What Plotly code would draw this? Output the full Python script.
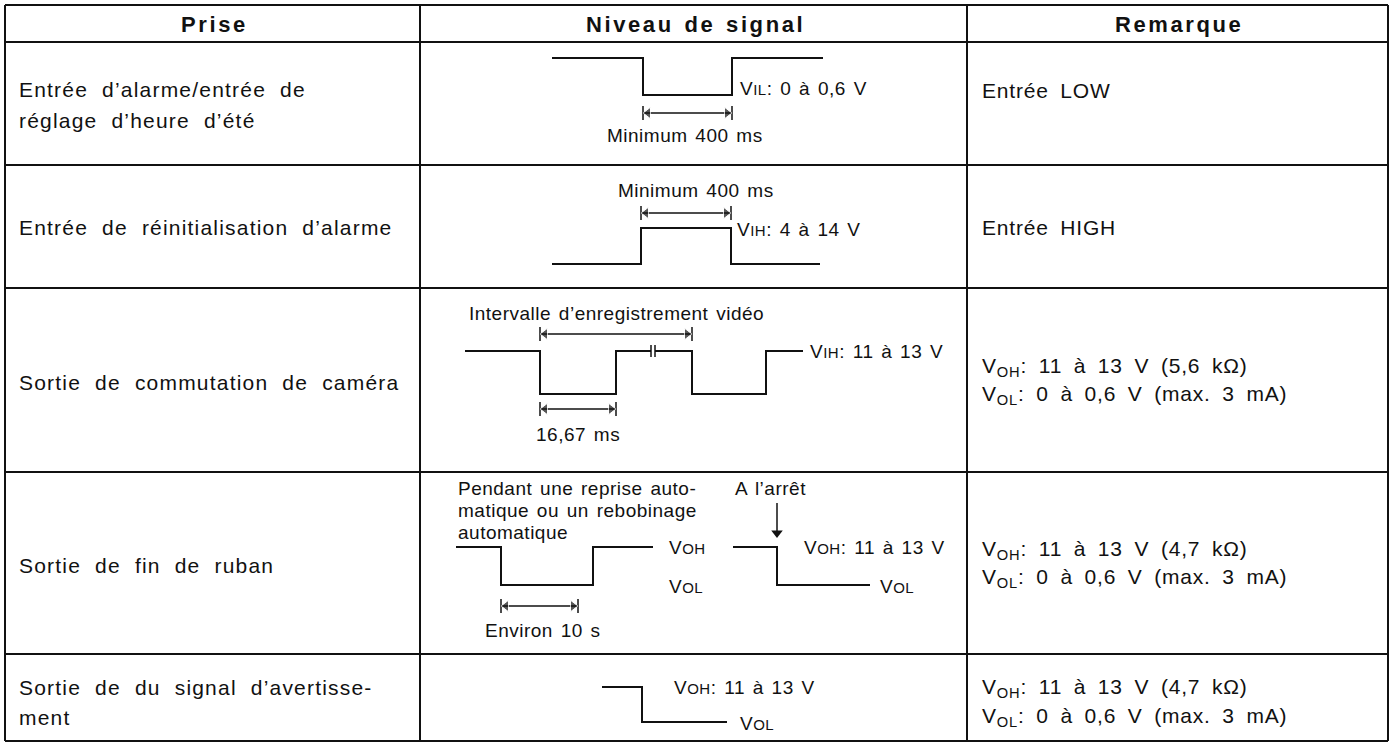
import plotly.graph_objects as go

W, H = 1395, 744
FONT = "Liberation Sans, Arial, Helvetica, sans-serif"

# ---------- table structure ----------
headers = ["Prise", "Niveau de signal", "Remarque"]
col_edges = [5, 420, 967, 1388]
row_edges = [5, 42, 165, 288, 472, 654, 741]

# ---------- left column text (lines, y centre) ----------
prise_lines = [
    ("Entrée d’alarme/entrée de", 89),
    ("réglage d’heure d’été", 120),
    ("Entrée de réinitialisation d’alarme", 227),
    ("Sortie de commutation de caméra", 382),
    ("Sortie de fin de ruban", 565),
    ("Sortie de du signal d’avertisse-", 687),
    ("ment", 717),
]

# ---------- right column text ----------
remarque_lines = [
    ("Entrée LOW", 90),
    ("Entrée HIGH", 227),
    ("V<sub>OH</sub>: 11 à 13 V (5,6 kΩ)", 367),
    ("V<sub>OL</sub>: 0 à 0,6 V (max. 3 mA)", 395),
    ("V<sub>OH</sub>: 11 à 13 V (4,7 kΩ)", 550),
    ("V<sub>OL</sub>: 0 à 0,6 V (max. 3 mA)", 578),
    ("V<sub>OH</sub>: 11 à 13 V (4,7 kΩ)", 688),
    ("V<sub>OL</sub>: 0 à 0,6 V (max. 3 mA)", 717),
]

# ---------- waveforms (pixel coordinates) ----------
waves = [
    # row 1 : low pulse
    ([552, 643, 643, 732, 732, 823], [58, 58, 95, 95, 58, 58]),
    # row 2 : high pulse
    ([552, 641, 641, 731, 731, 820], [264, 264, 228, 228, 264, 264]),
    # row 3 : camera switching (two parts around the break)
    ([465, 540, 540, 616, 616, 651], [351, 351, 394, 394, 351, 351]),
    ([655, 692, 692, 766, 766, 803], [351, 351, 394, 394, 351, 351]),
    # row 4 : end of tape
    ([456, 501, 501, 593, 593, 653], [547, 547, 585, 585, 547, 547]),
    ([733, 777, 777, 870], [547, 547, 585, 585]),
    # row 5 : warning
    ([602, 642, 642, 727], [687, 687, 722, 722]),
]
break_ticks_x = [651, 655]
break_ticks_y = [345, 357]

# dimension arrows: (x_start, x_end, y)
dims = [
    (643, 732, 113),
    (641, 731, 213),
    (540, 692, 334),
    (540, 616, 409),
    (501, 578, 606),
]
# down arrow (x, y_top, y_bottom)
down_arrow = (777, 503, 537)

# wave labels: (text, x, y, anchor)
S = "<span style='font-size:15px'>{}</span>"
wave_labels = [
    ("V" + S.format("IL") + ": 0 à 0,6 V", 738, 88, "left"),
    ("Minimum 400 ms", 685, 135, "center"),
    ("Minimum 400 ms", 696, 190, "center"),
    ("V" + S.format("IH") + ": 4 à 14 V", 735, 229, "left"),
    ("Intervalle d’enregistrement vidéo", 616, 313, "center"),
    ("V" + S.format("IH") + ": 11 à 13 V", 808, 351, "left"),
    ("16,67 ms", 578, 434, "center"),
    ("Pendant une reprise auto-", 456, 488, "left"),
    ("matique ou un rebobinage", 456, 510, "left"),
    ("automatique", 456, 532, "left"),
    ("A l’arrêt", 733, 488, "left"),
    ("V" + S.format("OH"), 667, 547, "left"),
    ("V" + S.format("OL"), 667, 586, "left"),
    ("V" + S.format("OH") + ": 11 à 13 V", 802, 547, "left"),
    ("V" + S.format("OL"), 878, 586, "left"),
    ("Environ 10 s", 483, 630, "left"),
    ("V" + S.format("OH") + ": 11 à 13 V", 672, 687, "left"),
    ("V" + S.format("OL"), 738, 723, "left"),
]

fig = go.Figure()
BLACK = "#111111"

def add_line(xs, ys, w=2):
    fig.add_trace(go.Scatter(x=xs, y=ys, mode="lines",
                             line=dict(color=BLACK, width=w),
                             hoverinfo="skip", showlegend=False))

# table lines
for x in col_edges:
    add_line([x, x], [row_edges[0], row_edges[-1]], 2)
for y in row_edges:
    add_line([col_edges[0], col_edges[-1]], [y, y], 2)

# waveforms
for xs, ys in waves:
    add_line(xs, ys, 2)
for bx in break_ticks_x:
    add_line([bx, bx], break_ticks_y, 1.5)

# dimension arrows
for x0, x1, y in dims:
    add_line([x0, x1], [y, y], 1.5)
    add_line([x0, x0], [y - 7, y + 7], 1.5)
    add_line([x1, x1], [y - 7, y + 7], 1.5)
    fig.add_trace(go.Scatter(x=[x0 + 5, x1 - 5], y=[y, y], mode="markers",
                             marker=dict(symbol=["triangle-left", "triangle-right"],
                                         size=[10, 10], color=BLACK),
                             hoverinfo="skip", showlegend=False))
dx, dy0, dy1 = down_arrow
add_line([dx, dx], [dy0, dy1 - 5], 1.5)
fig.add_trace(go.Scatter(x=[dx], y=[dy1 - 4], mode="markers",
                         marker=dict(symbol="triangle-down", size=10, color=BLACK),
                         hoverinfo="skip", showlegend=False))


def spaced(t, ls, ws):
    return "<span style='letter-spacing:%.1fpx;word-spacing:%.1fpx'>%s</span>" % (ls, ws, t)


ann = []
# headers
for i, h in enumerate(headers):
    ann.append(dict(x=(col_edges[i] + col_edges[i + 1]) / 2 + 1.5, y=24,
                    text="<b>" + spaced(h, 2.6, 2) + "</b>",
                    xanchor="center", yanchor="middle",
                    font=dict(size=22, color=BLACK, family=FONT)))
for t, y in prise_lines:
    ann.append(dict(x=17, y=y, text=spaced(t, 1.2, 7), xanchor="left", yanchor="middle",
                    font=dict(size=21, color=BLACK, family=FONT)))
for t, y in remarque_lines:
    ann.append(dict(x=980, y=y, text=spaced(t, 0.8, 5), xanchor="left", yanchor="middle",
                    font=dict(size=21, color=BLACK, family=FONT)))
for t, x, y, a in wave_labels:
    ann.append(dict(x=x, y=y, text=spaced(t, 0.5, 2), xanchor=a, yanchor="middle",
                    font=dict(size=19, color=BLACK, family=FONT)))
for a in ann:
    a.update(xref="x", yref="y", showarrow=False)

fig.update_layout(
    width=W, height=H, margin=dict(l=0, r=0, t=0, b=0),
    paper_bgcolor="white", plot_bgcolor="white",
    xaxis=dict(range=[0, W], visible=False, fixedrange=True),
    yaxis=dict(range=[H, 0], visible=False, fixedrange=True),
    annotations=ann, showlegend=False,
)
fig.write_html("out.html", config={"displayModeBar": False},
               post_script="document.body.style.margin='0px';document.body.style.overflow='hidden';")
